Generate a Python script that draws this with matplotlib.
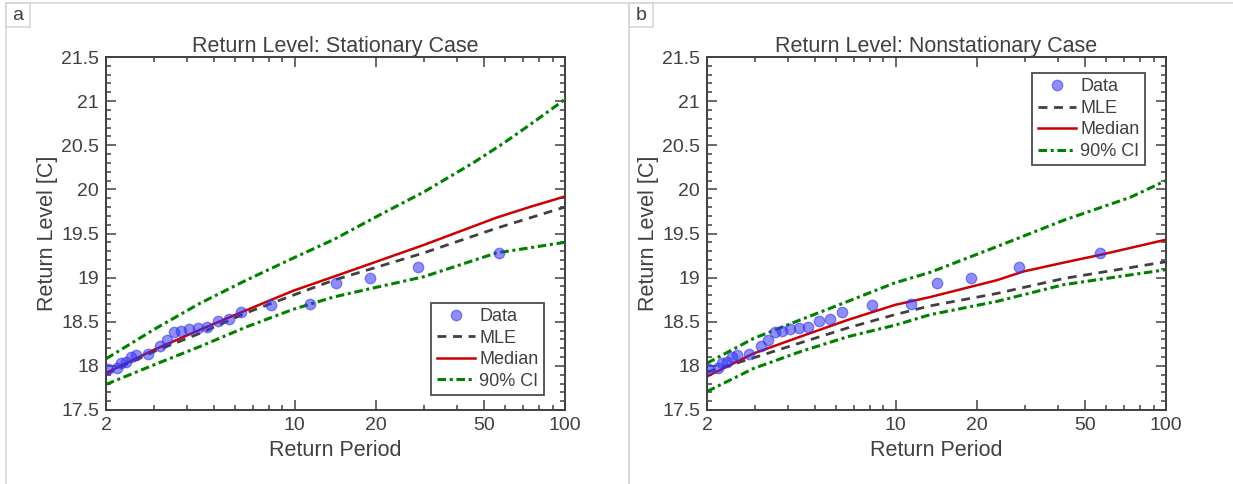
import numpy as np
import matplotlib
matplotlib.use('Agg')
import matplotlib.pyplot as plt
from matplotlib.patches import Rectangle
from matplotlib.ticker import FixedLocator, NullFormatter, MultipleLocator, FuncFormatter

plt.rcParams['font.family'] = ['Liberation Sans', 'DejaVu Sans']

TXT = '#404040'

# observed annual maxima (same in both panels)
data_period = [57, 28.5, 19, 14.25, 11.4, 8.14, 6.33, 5.7, 5.18, 4.75, 4.38, 4.07,
               3.8, 3.56, 3.35, 3.17, 2.85, 2.59, 2.48, 2.375, 2.28, 2.19, 2.04]
data_level = [19.28, 19.12, 19.00, 18.94, 18.70, 18.69, 18.61, 18.53, 18.51, 18.44, 18.43, 18.42,
              18.40, 18.38, 18.29, 18.23, 18.14, 18.12, 18.10, 18.04, 18.03, 17.98, 17.965]

# stationary case
st_mle_T = [2, 3.0, 4.46, 6.6, 9.84, 13.9, 30, 55.8, 100]
st_mle = [17.91, 18.16, 18.37, 18.60, 18.80, 18.97, 19.28, 19.56, 19.80]
st_med_T = [2, 3.0, 4.46, 6.6, 9.84, 13.9, 20, 30, 55.8, 74, 100]
st_med = [17.92, 18.18, 18.41, 18.63, 18.85, 19.01, 19.18, 19.37, 19.68, 19.80, 19.92]
st_up_T = [2, 3.0, 4.46, 6.6, 9.84, 13.9, 20.6, 30, 45.7, 59, 74, 100]
st_up = [18.08, 18.41, 18.71, 18.97, 19.22, 19.43, 19.71, 19.97, 20.30, 20.52, 20.73, 21.02]
st_lo_T = [2, 3.0, 4.46, 6.6, 9.84, 13.9, 20, 30, 55.8, 100]
st_lo = [17.79, 18.01, 18.22, 18.44, 18.64, 18.78, 18.89, 19.01, 19.28, 19.40]

# nonstationary case
ns_mle_T = [2, 2.97, 4.42, 6.63, 9.9, 13.4, 23.6, 41.8, 100]
ns_mle = [17.93, 18.09, 18.26, 18.43, 18.58, 18.68, 18.82, 18.99, 19.18]
ns_med_T = [2, 2.97, 4.42, 6.63, 9.9, 13.4, 23.6, 29.7, 41.8, 57.5, 100]
ns_med = [17.88, 18.14, 18.33, 18.52, 18.69, 18.78, 18.97, 19.07, 19.17, 19.26, 19.43]
ns_up_T = [2, 2.97, 4.42, 6.63, 9.9, 13.4, 23.6, 41.8, 73.8, 100]
ns_up = [18.03, 18.31, 18.52, 18.73, 18.94, 19.06, 19.35, 19.65, 19.91, 20.10]
ns_lo_T = [2, 2.97, 4.42, 6.63, 9.9, 13.4, 23.6, 41.8, 100]
ns_lo = [17.71, 17.97, 18.16, 18.33, 18.46, 18.58, 18.73, 18.92, 19.09]

x_ticks = [2, 10, 20, 50, 100]
x_minor = [3, 4, 5, 6, 7, 8, 9, 30, 40, 60, 70, 80, 90]

AX_W, AX_H = 459.0, 353.0


def panel(ax, title, mle, med, up, lo, loc, anchor):
    ax.plot(data_period, data_level, 'o', ms=7.5, color=(0.2, 0.2, 0.95), alpha=0.55,
            mec=(0.2, 0.2, 0.95), label='Data', zorder=3)
    ax.plot(mle[0], mle[1], '--', color='#404040', lw=2, dashes=(3.2, 2.4), label='MLE')
    ax.plot(med[0], med[1], '-', color=(0.8, 0.0, 0.0), lw=1.8, label='Median')
    ax.plot(up[0], up[1], '-.', color=(0.0, 0.5, 0.0), lw=2.2, dashes=(2.8, 1.2, 1.0, 1.2),
            label='90% CI')
    ax.plot(lo[0], lo[1], '-.', color=(0.0, 0.5, 0.0), lw=2.2, dashes=(2.8, 1.2, 1.0, 1.2))

    ax.set_xscale('log')
    ax.set_xlim(2, 100)
    ax.set_ylim(17.5, 21.5)
    ax.xaxis.set_major_locator(FixedLocator(x_ticks))
    ax.xaxis.set_minor_locator(FixedLocator(x_minor))
    ax.xaxis.set_major_formatter(FuncFormatter(lambda v, p: '%g' % v))
    ax.xaxis.set_minor_formatter(NullFormatter())
    ax.yaxis.set_major_locator(MultipleLocator(0.5))
    ax.yaxis.set_minor_locator(MultipleLocator(0.1))
    ax.yaxis.set_major_formatter(FuncFormatter(lambda v, p: '%g' % v))

    ax.tick_params(which='both', direction='in', top=True, right=True,
                   color='#404040', labelcolor=TXT, labelsize=14, width=1.1)
    ax.tick_params(which='major', length=7, pad=5)
    ax.tick_params(which='minor', length=3.8)
    for s in ax.spines.values():
        s.set_color('#404040')
        s.set_linewidth(1.4)

    ax.set_title(title, fontsize=15.5, color=TXT, pad=3)
    ax.set_xlabel('Return Period', fontsize=15.5, color=TXT, labelpad=4)
    ax.set_ylabel('Return Level [C]', fontsize=15.5, color=TXT, labelpad=2)

    leg = ax.legend(loc=loc, bbox_to_anchor=anchor, fontsize=13, frameon=True, fancybox=False,
                    handlelength=2.1, handletextpad=0.25, borderpad=0.3,
                    labelspacing=0.25, borderaxespad=0)
    leg.get_frame().set_edgecolor('#202020')
    leg.get_frame().set_linewidth(1.3)
    for t in leg.get_texts():
        t.set_color(TXT)


fig = plt.figure(figsize=(12.33, 4.84), dpi=100)
W, H = 1233.0, 484.0

ax_a = fig.add_axes([106 / W, 1 - 410 / H, AX_W / W, AX_H / H])
ax_b = fig.add_axes([707 / W, 1 - 410 / H, AX_W / W, AX_H / H])

panel(ax_a, 'Return Level: Stationary Case',
      (st_mle_T, st_mle), (st_med_T, st_med), (st_up_T, st_up), (st_lo_T, st_lo),
      'lower right', (1 - 21 / AX_W, 15 / AX_H))
panel(ax_b, 'Return Level: Nonstationary Case',
      (ns_mle_T, ns_mle), (ns_med_T, ns_med), (ns_up_T, ns_up), (ns_lo_T, ns_lo),
      'upper right', (1 - 21 / AX_W, 1 - 16 / AX_H))

# panel frames and letter boxes
frame_col = '#d8d8d8'
for x0, x1, lab in [(6, 629, 'a'), (629, 1240, 'b')]:
    fig.add_artist(Rectangle((x0 / W, -0.05), (x1 - x0) / W, 1.05 - 3 / H,
                             transform=fig.transFigure, fill=False,
                             edgecolor=frame_col, lw=1.2))
    fig.add_artist(Rectangle((x0 / W, 1 - 27 / H), 24 / W, 24 / H,
                             transform=fig.transFigure, fill=False,
                             edgecolor=frame_col, lw=1.2))
    fig.text((x0 + 12) / W, 1 - 15 / H, lab, ha='center', va='center',
             fontsize=14, color=TXT)

fig.savefig('out.png', dpi=100, facecolor='white')
